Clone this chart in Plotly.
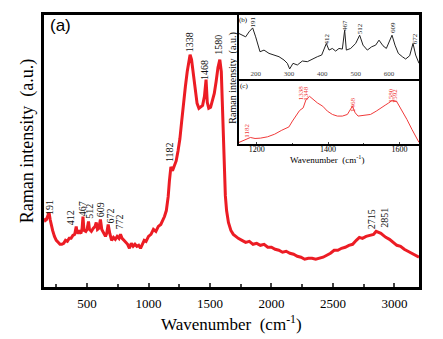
import plotly.graph_objects as go

# ---- main spectrum (a): Raman shift (cm-1) vs intensity (a.u.) ----
wn_a = [150, 160, 170, 180, 191, 200, 210, 220, 235, 250, 265, 280, 295, 310, 325, 340, 355, 370, 385, 400,
        412, 420, 435, 450, 460, 467, 475, 490, 500, 512, 520, 535, 550, 565, 575, 585, 595, 609, 620, 635,
        650, 660, 672, 685, 700, 715, 730, 745, 760, 772, 785, 800, 815, 830, 845, 860, 875, 890, 905, 920,
        935, 950, 965, 980, 1000, 1020, 1040, 1060, 1080, 1100, 1115, 1130, 1145, 1160, 1170, 1182, 1195, 1210, 1225, 1240,
        1255, 1270, 1285, 1300, 1315, 1325, 1338, 1350, 1365, 1380, 1395, 1410, 1425, 1440, 1455, 1468, 1478, 1490, 1505, 1520,
        1535, 1550, 1565, 1580, 1592, 1600, 1608, 1615, 1625, 1635, 1650, 1670, 1690, 1710, 1730, 1760, 1790, 1820, 1850, 1880,
        1910, 1940, 1970, 2000, 2030, 2060, 2090, 2120, 2150, 2180, 2210, 2240, 2270, 2300, 2330, 2360, 2390, 2420, 2450, 2480,
        2510, 2540, 2570, 2600, 2630, 2660, 2690, 2715, 2740, 2770, 2800, 2830, 2851, 2870, 2890, 2910, 2930, 2960, 2990, 3020,
        3050, 3080, 3110, 3140, 3170, 3200]
int_a = [69, 67, 68, 71, 75, 68, 62, 57, 51, 47, 45, 43, 43, 44, 47, 46, 49, 49, 52, 53,
         61, 54, 56, 54, 59, 71, 57, 56, 58, 66, 58, 56, 59, 61, 65, 58, 59, 68, 58, 55,
         51, 54, 63, 54, 47, 50, 48, 51, 49, 53, 49, 47, 45, 43, 39, 44, 41, 43, 41, 42,
         39, 44, 47, 46, 51, 53, 58, 56, 61, 63, 67, 71, 77, 91, 107, 121, 117, 122, 127, 137,
         149, 167, 187, 202, 217, 227, 234, 229, 215, 197, 185, 180, 182, 183, 192, 209, 186, 180, 181, 187,
         195, 207, 221, 229, 217, 187, 147, 117, 92, 77, 65, 57, 53, 51, 49, 47, 45, 46, 43, 44,
         42, 43, 40, 40, 38, 37, 35, 36, 34, 33, 31, 30, 28, 29, 29, 28, 29, 30, 32, 34,
         37, 37, 39, 40, 42, 43, 47, 50, 49, 51, 52, 53, 56, 55, 54, 52, 50, 48, 45, 42,
         41, 38, 36, 34, 32, 30]

# ---- inset (b): low-wavenumber region ----
wn_b = [150, 160, 170, 180, 191, 200, 213, 225, 240, 255, 270, 285, 295, 302, 312, 325, 340, 355, 370, 385,
        398, 405, 412, 420, 430, 440, 450, 460, 467, 472, 485, 500, 512, 522, 535, 548, 560, 570, 582, 592,
        600, 609, 618, 628, 640, 650, 662, 672, 680, 690]
int_b = [145, 140, 135, 150, 162, 135, 90, 95, 85, 80, 75, 65, 55, 38, 55, 50, 62, 60, 68, 75,
         80, 100, 115, 95, 100, 92, 100, 98, 155, 95, 100, 115, 140, 110, 95, 105, 110, 125, 108, 100,
         120, 140, 110, 85, 75, 68, 78, 115, 80, 55]

# ---- inset (c): D/G band region ----
wn_c = [1150, 1165, 1182, 1195, 1210, 1230, 1250, 1270, 1290, 1300, 1310, 1320, 1330, 1338, 1348, 1355, 1370, 1385, 1398, 1412,
        1426, 1440, 1454, 1468, 1476, 1484, 1500, 1519, 1535, 1547, 1560, 1570, 1580, 1592, 1603, 1612, 1621, 1635, 1649, 1655]
int_c = [15, 22, 30, 27, 28, 32, 40, 52, 62, 80, 95, 112, 120, 145, 155, 148, 135, 125, 110, 100,
         95, 95, 100, 125, 105, 95, 97, 100, 110, 120, 128, 135, 143, 140, 120, 105, 85, 55, 25, 15]

# peak labels: text, label anchor (wavenumber, intensity)
peaks_a = ["191", "412", "467", "512", "609", "672", "772", "1182", "1338", "1468", "1580", "2715", "2851"]
peaks_a_x = [195, 367, 465, 518, 611, 695, 760, 1175, 1332, 1454, 1573, 2815, 2918]
peaks_a_y = [80, 70, 79, 76, 78, 71, 65, 136, 247, 219, 244, 68, 70]

peaks_b = ["191", "412", "467", "512", "609", "672"]
peaks_b_x = [191, 415, 470, 513, 610, 677]
peaks_b_y = [180, 128, 170, 158, 163, 130]

peaks_c = ["1182", "1338", "1348", "1468", "1580", "1592"]
peaks_c_x = [1170, 1326, 1337, 1468, 1576, 1588]
peaks_c_y = [51, 167, 165, 130, 159, 156]

RED = "#ec1c24"
SERIF = "Liberation Serif, Times New Roman, serif"

fig = go.Figure()
fig.add_trace(go.Scatter(x=wn_a, y=int_a, mode="lines", line=dict(color=RED, width=3),
                         xaxis="x", yaxis="y", showlegend=False))
fig.add_trace(go.Scatter(x=wn_b, y=int_b, mode="lines", line=dict(color="#222222", width=1),
                         xaxis="x2", yaxis="y2", showlegend=False))
fig.add_trace(go.Scatter(x=wn_c, y=int_c, mode="lines", line=dict(color="#f03a3a", width=1),
                         xaxis="x3", yaxis="y3", showlegend=False))

frame = dict(showline=True, linecolor="black", mirror=True, showgrid=False, zeroline=False)

fig.update_layout(
    width=443, height=339,
    margin=dict(l=44, r=24, t=13, b=52),
    paper_bgcolor="white", plot_bgcolor="white",
    font=dict(family=SERIF, color="black"),
    xaxis=dict(domain=[0, 1], range=[150, 3200], anchor="y", linewidth=2.5,
               tickvals=[500, 1000, 1500, 2000, 2500, 3000], ticks="inside", ticklen=4, tickwidth=1.5,
               tickfont=dict(size=13, family=SERIF), ticklabelstandoff=3,
               minor=dict(ticks="inside", ticklen=3, tickwidth=1.5, dtick=250, tick0=0), **frame),
    yaxis=dict(domain=[0, 1], range=[0, 274], anchor="x", linewidth=2.5, showticklabels=False,
               ticks="", **frame),
    xaxis2=dict(domain=[0.52, 1.0], range=[150, 690], anchor="y2", linewidth=1.5,
                tickvals=[200, 300, 400, 500, 600], ticks="inside", ticklen=2, tickwidth=1,
                ticklabelposition="inside", tickfont=dict(size=7, family=SERIF),
                minor=dict(ticks="inside", ticklen=1.5, dtick=50, tick0=0), **frame),
    yaxis2=dict(domain=[0.759, 1.0], range=[3, 201], anchor="x2", linewidth=1.5,
                showticklabels=False, ticks="", **frame),
    xaxis3=dict(domain=[0.52, 1.0], range=[1150, 1655], anchor="y3", linewidth=1.5,
                tickvals=[1200, 1400, 1600], ticks="inside", ticklen=2, tickwidth=1,
                tickfont=dict(size=8, family=SERIF), ticklabelstandoff=-3,
                minor=dict(ticks="inside", ticklen=1.5, dtick=100, tick0=0), **frame),
    yaxis3=dict(domain=[0.5255, 0.759], range=[10, 203], anchor="x3", linewidth=1.5,
                showticklabels=False, ticks="", **frame),
)

ann = []
for t, x, y in zip(peaks_a, peaks_a_x, peaks_a_y):
    ann.append(dict(text=t, x=x, y=y, xref="x", yref="y", textangle=-90, showarrow=False,
                    xanchor="center", yanchor="middle", font=dict(size=10, family=SERIF, color="#111")))
for t, x, y in zip(peaks_b, peaks_b_x, peaks_b_y):
    ann.append(dict(text=t, x=x, y=y, xref="x2", yref="y2", textangle=-90, showarrow=False,
                    xanchor="center", yanchor="middle", font=dict(size=7, family=SERIF, color="#222")))
for t, x, y in zip(peaks_c, peaks_c_x, peaks_c_y):
    ann.append(dict(text=t, x=x, y=y, xref="x3", yref="y3", textangle=-90, showarrow=False,
                    xanchor="center", yanchor="middle", font=dict(size=7, family=SERIF, color="#f03a3a")))

# axis titles and panel letters
ann += [
    dict(text="Wavenumber  (cm<sup>-1</sup>)", x=0.4987, y=-0.131, xref="paper", yref="paper",
         showarrow=False, xanchor="center", yanchor="middle", font=dict(size=17, family=SERIF)),
    dict(text="Raman intensity  (a.u.)", x=-0.0453, y=0.536, xref="paper", yref="paper", textangle=-90,
         showarrow=False, xanchor="center", yanchor="middle", font=dict(size=18, family=SERIF)),
    dict(text="(a)", x=0.0427, y=0.96, xref="paper", yref="paper", showarrow=False,
         xanchor="center", yanchor="middle", font=dict(size=17, family="Liberation Sans, Arial, sans-serif")),
    dict(text="Wavenumber  (cm<sup>-1</sup>)", x=0.757, y=0.472, xref="paper", yref="paper",
         showarrow=False, xanchor="center", yanchor="middle", font=dict(size=9, family=SERIF)),
    dict(text="Raman intensity  (a.u.)", x=0.504, y=0.766, xref="paper", yref="paper", textangle=-90,
         showarrow=False, xanchor="center", yanchor="middle", font=dict(size=10, family=SERIF)),
    dict(text="(b)", x=0.533, y=0.98, xref="paper", yref="paper", showarrow=False,
         xanchor="center", yanchor="middle", font=dict(size=7, family=SERIF)),
    dict(text="(c)", x=0.533, y=0.739, xref="paper", yref="paper", showarrow=False,
         xanchor="center", yanchor="middle", font=dict(size=7, family=SERIF)),
]
fig.update_layout(annotations=ann)

fig.write_html("out.html")
